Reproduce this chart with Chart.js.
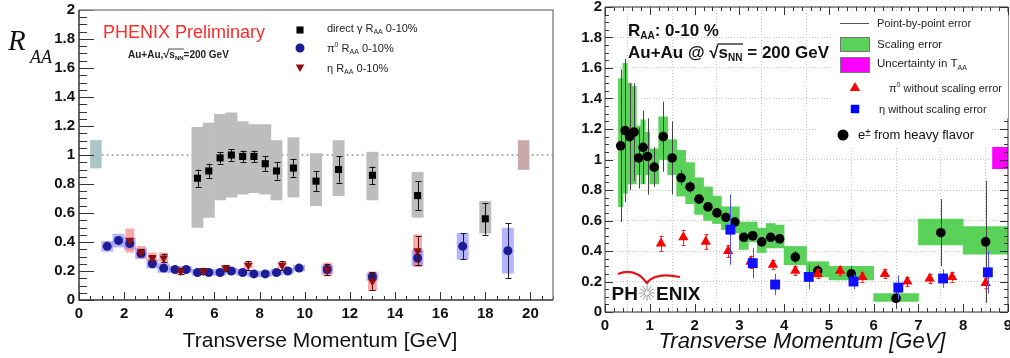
<!DOCTYPE html>
<html>
<head>
<meta charset="utf-8">
<script src="https://cdn.jsdelivr.net/npm/chart.js@4/dist/chart.umd.min.js"></script>
<style>
  html, body { margin: 0; padding: 0; background: #fff; overflow: hidden; width: 1010px; height: 358px; }
  #left  { position: absolute; left: 0;     top: 0; }
  #right { position: absolute; left: 545px; top: 0; }
</style>
</head>
<body>
<canvas id="left" width="560" height="358"></canvas>
<canvas id="right" width="470" height="358"></canvas>
<script>
// ---------- painel esquerdo: eixos ----------
const leftXTicks  = [0, 2, 4, 6, 8, 10, 12, 14, 16, 18, 20];
const leftXLabels = ['0', '2', '4', '6', '8', '10', '12', '14', '16', '18', '20'];
const yTicks      = [0, 0.2, 0.4, 0.6, 0.8, 1, 1.2, 1.4, 1.6, 1.8, 2];
const yLabels     = ['0', '0.2', '0.4', '0.6', '0.8', '1', '1.2', '1.4', '1.6', '1.8', '2'];

// direct gamma R_AA 0-10%
const gammaX     = [5.25, 5.75, 6.25, 6.75, 7.25, 7.75, 8.25, 8.75, 9.5, 10.5, 11.5, 13, 15, 18];
const gammaY     = [0.84, 0.89, 0.98, 1.00, 0.99, 0.99, 0.94, 0.89, 0.91, 0.82, 0.90, 0.86, 0.72, 0.56];
const gammaErr   = [0.06, 0.05, 0.04, 0.04, 0.04, 0.04, 0.05, 0.06, 0.06, 0.07, 0.09, 0.06, 0.10, 0.11];
const gammaSysLo = [0.50, 0.57, 0.69, 0.71, 0.73, 0.74, 0.73, 0.69, 0.71, 0.65, 0.72, 0.69, 0.57, 0.46];
const gammaSysHi = [1.19, 1.22, 1.28, 1.29, 1.23, 1.21, 1.21, 1.10, 1.12, 1.01, 1.10, 1.02, 0.88, 0.68];

// pi0 R_AA 0-10%
const pi0X   = [1.25, 1.75, 2.25, 2.75, 3.25, 3.75, 4.25, 4.75, 5.25, 5.75, 6.25, 6.75, 7.25, 7.75, 8.25, 8.75, 9.25, 9.75, 11, 13, 15, 17, 19];
const pi0Y   = [0.37, 0.41, 0.39, 0.32, 0.25, 0.22, 0.21, 0.21, 0.19, 0.19, 0.19, 0.20, 0.19, 0.18, 0.18, 0.19, 0.20, 0.22, 0.21, 0.16, 0.29, 0.37, 0.34];
const pi0Err = [0.01, 0.01, 0.01, 0.01, 0.01, 0.01, 0.01, 0.01, 0.01, 0.01, 0.01, 0.01, 0.01, 0.01, 0.01, 0.01, 0.01, 0.01, 0.02, 0.02, 0.05, 0.09, 0.19];
const pi0Sys = [0.035, 0.045, 0.04, 0.035, 0.03, 0.03, 0.02, 0.02, 0.02, 0.02, 0.02, 0.02, 0.02, 0.02, 0.02, 0.02, 0.02, 0.02, 0.03, 0.025, 0.055, 0.09, 0.155];

// eta R_AA 0-10%
const etaX   = [2.25, 2.75, 3.25, 3.75, 4.5, 5.5, 6.5, 7.5, 9, 11, 13, 15];
const etaY   = [0.41, 0.33, 0.29, 0.29, 0.20, 0.20, 0.22, 0.24, 0.24, 0.21, 0.13, 0.34];
const etaErr = [0.02, 0.02, 0.02, 0.03, 0.02, 0.02, 0.02, 0.03, 0.03, 0.04, 0.06, 0.10];
const etaSys = [0.08, 0.04, 0.035, 0.035, 0.025, 0.02, 0.02, 0.02, 0.02, 0.045, 0.065, 0.11];

// caixas de normalização em R_AA = 1
const normX  = [0.75, 19.7];
const normLo = [0.91, 0.90];
const normHi = [1.10, 1.10];
const unityX = [1, 21];
const unityY = [1, 1];

// ---------- painel direito ----------
const rightXTicks  = [0, 1, 2, 3, 4, 5, 6, 7, 8, 9];
const rightXLabels = ['0', '1', '2', '3', '4', '5', '6', '7', '8', '9'];

// e+- from heavy flavor
const hfX     = [0.35, 0.45, 0.55, 0.65, 0.75, 0.85, 0.95, 1.1, 1.3, 1.5, 1.7, 1.9, 2.1, 2.3, 2.5, 2.7, 2.9, 3.1, 3.3, 3.5, 3.7, 3.9, 4.25, 4.75, 5.5, 6.5, 7.5, 8.5];
const hfY     = [1.09, 1.19, 1.15, 1.18, 1.01, 1.08, 1.02, 0.95, 1.15, 1.01, 0.88, 0.82, 0.74, 0.69, 0.65, 0.62, 0.59, 0.49, 0.50, 0.46, 0.49, 0.48, 0.36, 0.27, 0.25, 0.09, 0.52, 0.46];
const hfErr   = [0.50, 0.47, 0.35, 0.32, 0.20, 0.24, 0.25, 0.13, 0.23, 0.24, 0.05, 0.04, 0.03, 0.03, 0.03, 0.03, 0.03, 0.03, 0.03, 0.03, 0.03, 0.03, 0.04, 0.04, 0.05, 0.07, 0.22, 0.40];
const hfSysLo = [0.69, 0.78, 0.84, 0.84, 0.90, 0.84, 0.90, 0.84, 1.00, 0.90, 0.76, 0.71, 0.64, 0.60, 0.58, 0.54, 0.52, 0.41, 0.46, 0.39, 0.42, 0.42, 0.31, 0.23, 0.21, 0.07, 0.44, 0.38];
const hfSysHi = [1.53, 1.63, 1.50, 1.48, 1.22, 1.26, 1.18, 1.07, 1.28, 1.13, 1.06, 0.98, 0.88, 0.82, 0.76, 0.69, 0.69, 0.59, 0.59, 0.55, 0.58, 0.57, 0.43, 0.33, 0.30, 0.12, 0.61, 0.56];
const hfBinW  = [0.1, 0.1, 0.1, 0.1, 0.1, 0.1, 0.1, 0.2, 0.2, 0.2, 0.2, 0.2, 0.2, 0.2, 0.2, 0.2, 0.2, 0.2, 0.2, 0.2, 0.2, 0.2, 0.5, 0.5, 1, 1, 1, 1];

// pi0 without scaling error
const pi0rX   = [1.25, 1.75, 2.25, 2.75, 3.25, 3.75, 4.25, 4.75, 5.25, 5.75, 6.25, 6.75, 7.25, 7.75, 8.5];
const pi0rY   = [0.45, 0.49, 0.46, 0.40, 0.33, 0.31, 0.27, 0.25, 0.27, 0.23, 0.25, 0.20, 0.22, 0.23, 0.19];
const pi0rErr = [0.05, 0.05, 0.05, 0.04, 0.04, 0.03, 0.03, 0.03, 0.03, 0.03, 0.03, 0.03, 0.03, 0.03, 0.03];

// eta without scaling error
const etarX   = [2.8, 3.3, 3.8, 4.55, 5.55, 6.55, 7.55, 8.55];
const etarY   = [0.54, 0.32, 0.18, 0.23, 0.20, 0.16, 0.22, 0.26];
const etarErr = [0.23, 0.10, 0.07, 0.08, 0.05, 0.08, 0.06, 0.14];

// incerteza em T_AA
const taaX  = [8.83];
const taaLo = [0.94];
const taaHi = [1.08];

// ---------- utilidades ----------
const FONT = '"Liberation Sans", Arial, Helvetica, sans-serif';
Chart.defaults.font.family = FONT;
Chart.defaults.color = '#111';

const xy     = (xs, ys) => xs.map((x, i) => ({ x, y: ys[i] }));
const span   = (xs, lo, hi) => xs.map((x, i) => ({ x, y: [lo[i], hi[i]] }));
const around = (xs, ys, d) => xs.map((x, i) => ({ x, y: [ys[i] - d[i], ys[i] + d[i]] }));
const unitPx = (chart, w) => chart.scales.x.getPixelForValue(w) - chart.scales.x.getPixelForValue(0);

function boxes(data, color, width, order) {
  return {
    type: 'bar', data, backgroundColor: color, borderWidth: 0, grouped: false, order,
    barThickness: ctx => unitPx(ctx.chart, width)
  };
}

function points(xs, ys, errs, style, color, radius, order, err) {
  return {
    type: 'scatter', data: xy(xs, ys), pointStyle: style, pointRadius: radius,
    pointRotation: style === 'triangle' && err.down ? 180 : 0,
    backgroundColor: color, borderColor: color, pointBorderWidth: 0, order,
    errors: errs, errorColor: err.color, errorCap: err.cap || 0, errorWidth: err.width || 1
  };
}

function drawRich(ctx, x, y, parts, color) {
  let cx = x;
  ctx.fillStyle = color;
  ctx.textBaseline = 'alphabetic';
  ctx.textAlign = 'left';
  parts.forEach(p => {
    ctx.font = `${p.i ? 'italic ' : ''}${p.b ? 'bold ' : ''}${p.s}px ${p.f || FONT}`;
    const w = ctx.measureText(p.t).width;
    ctx.fillText(p.t, cx, y + (p.dy || 0));
    if (p.over) {
      ctx.save();
      ctx.strokeStyle = color;
      ctx.lineWidth = p.s > 12 ? 1.2 : 0.8;
      ctx.beginPath();
      ctx.moveTo(cx - 1, y + p.over);
      ctx.lineTo(cx + w + (p.overExtra || 0), y + p.over);
      ctx.stroke();
      ctx.restore();
    }
    cx += w;
  });
  return cx;
}

function marker(ctx, style, color, r, x, y, rotation) {
  ctx.fillStyle = color;
  Chart.helpers.drawPoint(ctx, { pointStyle: style, radius: r, rotation: rotation || 0, borderWidth: 0 }, x, y);
}

// barras de erro, desenhadas antes do marcador
const errorBars = {
  id: 'errorBars',
  beforeDatasetDraw(chart, args) {
    const ds = chart.data.datasets[args.index];
    if (!ds.errors) return;
    const { ctx } = chart;
    const y = chart.scales.y;
    ctx.save();
    ctx.strokeStyle = ds.errorColor;
    ctx.lineWidth = ds.errorWidth;
    ctx.beginPath();
    args.meta.data.forEach((el, i) => {
      const v = ds.data[i].y, e = ds.errors[i];
      const top = y.getPixelForValue(v + e), bot = y.getPixelForValue(v - e);
      const px = Math.round(el.x) + 0.5;
      ctx.moveTo(px, top); ctx.lineTo(px, bot);
      if (ds.errorCap) {
        ctx.moveTo(px - ds.errorCap, Math.round(top) + 0.5); ctx.lineTo(px + ds.errorCap, Math.round(top) + 0.5);
        ctx.moveTo(px - ds.errorCap, Math.round(bot) + 0.5); ctx.lineTo(px + ds.errorCap, Math.round(bot) + 0.5);
      }
    });
    ctx.stroke();
    ctx.restore();
  }
};

// moldura e marcas de escala no estilo ROOT (para dentro)
const rootFrame = {
  id: 'rootFrame',
  afterDatasetsDraw(chart, args, o) {
    const { ctx, chartArea: a, scales: { x, y } } = chart;
    const isMajor = (v, step) => Math.abs(v / step - Math.round(v / step)) < 1e-6;
    ctx.save();
    ctx.strokeStyle = o.tickColor;
    ctx.lineWidth = 1;
    ctx.beginPath();
    for (let k = 0; k * o.xMinor <= x.max + 1e-9; k++) {
      const v = k * o.xMinor;
      const len = isMajor(v, o.xMajor) ? o.xLen[0] : o.xLen[1];
      const px = Math.round(x.getPixelForValue(v)) + 0.5;
      ctx.moveTo(px, a.bottom); ctx.lineTo(px, a.bottom - len);
      if (o.mirror) { ctx.moveTo(px, a.top); ctx.lineTo(px, a.top + len); }
    }
    for (let k = 0; k * o.yMinor <= y.max + 1e-9; k++) {
      const v = k * o.yMinor;
      const len = isMajor(v, o.yMajor) ? o.yLen[0] : o.yLen[1];
      const py = Math.round(y.getPixelForValue(v)) + 0.5;
      ctx.moveTo(a.left, py); ctx.lineTo(a.left + len, py);
      if (o.mirror) { ctx.moveTo(a.right, py); ctx.lineTo(a.right - len, py); }
    }
    ctx.stroke();
    ctx.lineWidth = o.frameWidth;
    ctx.strokeStyle = o.frameColor;
    ctx.beginPath();
    ctx.moveTo(a.left, a.top); ctx.lineTo(a.right, a.top); ctx.lineTo(a.right, a.bottom);
    ctx.stroke();
    ctx.strokeStyle = o.axisColor;
    ctx.beginPath();
    ctx.moveTo(a.left, a.top); ctx.lineTo(a.left, a.bottom); ctx.lineTo(a.right, a.bottom);
    ctx.stroke();
    ctx.restore();
  }
};

function axisX(ticks, labels, max, height) {
  return {
    type: 'linear', min: 0, max, offset: false,
    afterBuildTicks: s => { s.ticks = ticks.map(value => ({ value })); },
    afterFit: s => { s.height = height; s.paddingLeft = 0; s.paddingRight = 0; },
    grid: { display: false, drawTicks: false }, border: { display: false },
    ticks: { callback: (v, i) => labels[i], font: { size: 15, weight: 'bold' }, color: '#111', padding: 5, maxRotation: 0, autoSkip: false }
  };
}

function axisY(width, pad) {
  return {
    type: 'linear', min: 0, max: 2,
    afterBuildTicks: s => { s.ticks = yTicks.map(value => ({ value })); },
    afterFit: s => { s.width = width; s.paddingTop = 0; s.paddingBottom = 0; },
    grid: { display: false, drawTicks: false }, border: { display: false },
    ticks: { callback: (v, i) => yLabels[i], font: { size: 15, weight: 'bold' }, color: '#111', padding: pad, autoSkip: false }
  };
}

// ---------- textos do painel esquerdo ----------
const leftText = {
  id: 'leftText',
  afterDraw(chart) {
    const ctx = chart.ctx;
    ctx.save();
    drawRich(ctx, 8, 50, [{ t: 'R', s: 29, i: true, f: '"Liberation Serif", "Times New Roman", serif' }], '#111');
    drawRich(ctx, 30, 63, [{ t: 'AA', s: 18, i: true, f: '"Liberation Serif", "Times New Roman", serif' }], '#111');
    drawRich(ctx, 103, 38, [{ t: 'PHENIX Preliminary', s: 18 }], '#ff2b2b');
    drawRich(ctx, 128, 58, [
      { t: 'Au+Au,', s: 10, b: true }, { t: '\u221A', s: 11, b: true },
      { t: 's', s: 10, b: true, over: -9, overExtra: 9 }, { t: 'NN', s: 6, b: true, dy: 2 },
      { t: '=200 GeV', s: 10, b: true }
    ], '#222');

    marker(ctx, 'rect', '#000', 5, 300, 30);
    marker(ctx, 'circle', '#1c1c96', 4.5, 300, 48);
    marker(ctx, 'triangle', '#8b1010', 5, 300, 67, 180);
    drawRich(ctx, 327, 32, [{ t: 'direct \u03B3 R', s: 11 }, { t: 'AA', s: 7, dy: 2 }, { t: ' 0-10%', s: 11 }], '#222');
    drawRich(ctx, 327, 52, [{ t: '\u03C0', s: 11 }, { t: '0', s: 7, dy: -5 }, { t: ' R', s: 11 }, { t: 'AA', s: 7, dy: 2 }, { t: ' 0-10%', s: 11 }], '#222');
    drawRich(ctx, 327, 72, [{ t: '\u03B7 R', s: 11 }, { t: 'AA', s: 7, dy: 2 }, { t: ' 0-10%', s: 11 }], '#222');

    ctx.font = `21px ${FONT}`;
    ctx.fillStyle = '#111';
    ctx.textAlign = 'center';
    ctx.fillText('Transverse Momentum [GeV]', 320, 347);
    ctx.restore();
  }
};

// ---------- textos, legenda e logotipo do painel direito ----------
const rightText = {
  id: 'rightText',
  afterDraw(chart) {
    const { ctx, chartArea: a } = chart;
    const L = a.left;
    ctx.save();
    drawRich(ctx, L + 23, 36, [{ t: 'R', s: 17, b: true }, { t: 'AA', s: 10, b: true, dy: 3 }, { t: ': 0-10 %', s: 17, b: true }], '#111');
    drawRich(ctx, L + 23, 58, [
      { t: 'Au+Au @ ', s: 17, b: true }, { t: '\u221A', s: 17, b: true },
      { t: 's', s: 17, b: true, over: -14, overExtra: 15 }, { t: 'NN', s: 10, b: true, dy: 3 },
      { t: ' = 200 GeV', s: 17, b: true }
    ], '#111');

    // fundo branco da legenda
    ctx.fillStyle = '#fff';
    ctx.fillRect(L + 227, 12, 176, 106);
    ctx.fillRect(L + 213, 121, 172, 27);

    ctx.strokeStyle = '#555';
    ctx.lineWidth = 1;
    ctx.beginPath(); ctx.moveTo(L + 235, 23.5); ctx.lineTo(L + 264, 23.5); ctx.stroke();
    ctx.fillStyle = '#5ad25a'; ctx.fillRect(L + 235, 37, 30, 15);
    ctx.strokeStyle = '#777'; ctx.strokeRect(L + 235.5, 37.5, 29, 14);
    ctx.fillStyle = '#ff00ff'; ctx.fillRect(L + 235, 57, 30, 16);
    ctx.strokeRect(L + 235.5, 57.5, 29, 15);
    marker(ctx, 'triangle', '#ff0000', 6, L + 250, 88);
    marker(ctx, 'rect', '#0000ff', 6, L + 250, 109);
    marker(ctx, 'circle', '#000', 5.5, L + 238, 135);

    drawRich(ctx, L + 272, 27, [{ t: 'Point-by-point error', s: 11 }], '#222');
    drawRich(ctx, L + 272, 48, [{ t: 'Scaling error', s: 11.5 }], '#222');
    drawRich(ctx, L + 272, 67, [{ t: 'Uncertainty in T', s: 11.5 }, { t: 'AA', s: 7, dy: 3 }], '#222');
    drawRich(ctx, L + 284, 92, [{ t: '\u03C0', s: 11 }, { t: '0', s: 7, dy: -5 }, { t: ' without scaling error', s: 11 }], '#222');
    drawRich(ctx, L + 274, 113, [{ t: '\u03B7 without scaling error', s: 11 }], '#222');
    drawRich(ctx, L + 253, 139, [{ t: 'e', s: 13 }, { t: '\u00B1', s: 10, dy: -3 }, { t: ' from heavy flavor', s: 13 }], '#111');

    // logotipo PHENIX
    const B = a.bottom;
    ctx.strokeStyle = '#e3141c';
    ctx.lineWidth = 2.2;
    ctx.beginPath();
    ctx.moveTo(L + 13, B - 38);
    ctx.quadraticCurveTo(L + 30, B - 45, L + 42, B - 29);
    ctx.quadraticCurveTo(L + 50, B - 40, L + 75, B - 35);
    ctx.stroke();
    ctx.strokeStyle = '#9a9a9a';
    ctx.lineWidth = 1;
    ctx.beginPath();
    for (let k = 0; k < 12; k++) {
      const t = k * Math.PI / 6;
      ctx.moveTo(L + 42 + Math.cos(t) * 2, B - 19 + Math.sin(t) * 2);
      ctx.lineTo(L + 42 + Math.cos(t) * 8, B - 19 + Math.sin(t) * 8);
    }
    ctx.stroke();
    ctx.font = `bold 19px ${FONT}`;
    ctx.fillStyle = '#111';
    ctx.textAlign = 'right';
    ctx.fillText('PH', L + 33, B - 12);
    ctx.textAlign = 'left';
    ctx.fillText('ENIX', L + 51, B - 12);

    ctx.font = `italic 22px ${FONT}`;
    ctx.textAlign = 'center';
    ctx.fillText('Transverse Momentum [GeV]', 802 - 545, 348);
    ctx.restore();
  }
};

// ---------- gráfico esquerdo ----------
new Chart(document.getElementById('left'), {
  type: 'scatter',
  data: {
    datasets: [
      { type: 'line', data: xy(unityX, unityY), borderColor: '#666', borderWidth: 1, borderDash: [2, 3], pointRadius: 0, order: 8 },
      boxes(span(gammaX, gammaSysLo, gammaSysHi), '#bdbdbd', 0.5, 6),
      Object.assign(boxes(span(normX, normLo, normHi), ['#aac6c6', '#caa9ab'], 0.48, 6)),
      boxes(around(pi0X, pi0Y, pi0Sys), 'rgba(90, 90, 255, 0.45)', 0.5, 5),
      boxes(around(etaX, etaY, etaSys), 'rgba(255, 80, 80, 0.5)', 0.36, 4),
      points(gammaX, gammaY, gammaErr, 'rect', '#000', 5, 3, { color: '#111', cap: 3 }),
      points(pi0X, pi0Y, pi0Err, 'circle', '#1c1c96', 4.5, 2, { color: '#1c1c3c', cap: 3 }),
      points(etaX, etaY, etaErr, 'triangle', '#8b1010', 5, 1, { color: '#3c1010', cap: 3, down: true })
    ]
  },
  options: {
    responsive: false, animation: false, devicePixelRatio: 1,
    layout: { padding: { top: 10, right: 7, left: 0, bottom: 0 } },
    plugins: {
      legend: { display: false }, tooltip: { enabled: false },
      rootFrame: { xMinor: 0.5, xMajor: 2, yMinor: 0.05, yMajor: 0.2, xLen: [8, 4], yLen: [15, 8],
        mirror: false, tickColor: '#333', frameWidth: 1.5, frameColor: '#8a8a8a', axisColor: '#333' }
    },
    scales: { x: axisX(leftXTicks, leftXLabels, 21, 58), y: axisY(79, 4) }
  },
  plugins: [errorBars, rootFrame, leftText]
});

// ---------- gráfico direito ----------
const hfBoxes = [0.1, 0.2, 0.5, 1].map(w => boxes(
  span(hfX, hfSysLo, hfSysHi).filter((_, i) => hfBinW[i] === w), '#5ad25a', w, 6));

const rightX = axisX(rightXTicks, rightXLabels, 9, 46);
rightX.grid = { display: true, drawTicks: false, color: '#c4c4c4', lineWidth: 1 };
rightX.border = { display: false, dash: [1, 2] };
const rightY = axisY(60, 3);
rightY.grid = { display: true, drawTicks: false, color: '#c4c4c4', lineWidth: 1 };
rightY.border = { display: false, dash: [1, 2] };

new Chart(document.getElementById('right'), {
  type: 'scatter',
  data: {
    datasets: [
      ...hfBoxes,
      boxes(span(taaX, taaLo, taaHi), '#ff00ff', 0.35, 6),
      points(hfX, hfY, hfErr, 'circle', '#000', 4.8, 3, { color: '#444' }),
      points(pi0rX, pi0rY, pi0rErr, 'triangle', '#ff0000', 6, 2, { color: '#ff2020', cap: 2 }),
      points(etarX, etarY, etarErr, 'rect', '#1010ff', 7, 1, { color: '#5050ff' })
    ]
  },
  options: {
    responsive: false, animation: false, devicePixelRatio: 1,
    layout: { padding: { top: 6, right: 3, left: 0, bottom: 0 } },
    plugins: {
      legend: { display: false }, tooltip: { enabled: false },
      rootFrame: { xMinor: 0.2, xMajor: 1, yMinor: 0.05, yMajor: 0.2, xLen: [8, 4], yLen: [8, 4],
        mirror: true, tickColor: '#333', frameWidth: 1, frameColor: '#333', axisColor: '#333' }
    },
    scales: { x: rightX, y: rightY }
  },
  plugins: [errorBars, rootFrame, rightText]
});
</script>
</body>
</html>
